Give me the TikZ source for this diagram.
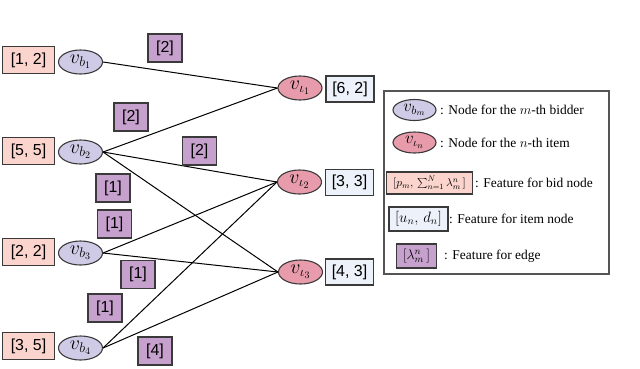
\RequirePackage{fix-cm}
\documentclass[tikz,border=0pt]{standalone}
\usepackage{fontspec}
\setmainfont{Liberation Serif}
\newfontfamily\arialf{Liberation Sans}
\usetikzlibrary{shapes.geometric}
\definecolor{bordercol}{HTML}{3A3A3A}
\definecolor{bidfill}{HTML}{FBD5CD}
\definecolor{bidell}{HTML}{CFCBE6}
\definecolor{itemell}{HTML}{E89CAB}
\definecolor{itemfill}{HTML}{EDF2FA}
\definecolor{edgefill}{HTML}{C7A1CD}
\definecolor{legcol}{HTML}{555555}
\tikzset{
  box/.style={rectangle, draw=bordercol, line width=1.1bp, inner sep=0pt, font=\arialf\fontsize{16}{18}\selectfont},
  bidfeat/.style={box, fill=bidfill, minimum width=52bp, minimum height=27bp},
  itemfeat/.style={box, fill=itemfill, minimum width=48bp, minimum height=26bp},
  edgefeat/.style={box, fill=edgefill, minimum width=34bp, minimum height=28bp},
  ell/.style={ellipse, draw=bordercol, line width=1.1bp, inner sep=0pt, minimum width=44bp, minimum height=24bp, font=\fontsize{20}{22}\selectfont},
  bidnode/.style={ell, fill=bidell},
  itemnode/.style={ell, fill=itemell},
  conn/.style={draw=black, line width=1bp},
  legtext/.style={anchor=west, inner sep=0pt, font=\fontsize{13.5}{15}\selectfont},
}
\begin{document}
\begin{tikzpicture}[x=1bp, y=-1bp]
\useasboundingbox (0,0) rectangle (640,368);
% bidder features
\node[bidfeat] (f1) at (28.5,60) {[1, 2]};
\node[bidfeat] (f2) at (28.5,151) {[5, 5]};
\node[bidfeat] (f3) at (28.5,252) {[2, 2]};
\node[bidfeat] (f4) at (28.5,346) {[3, 5]};
% bidder nodes
\node[bidnode] (b1) at (80.5,62) {$v_{b_1}$};
\node[bidnode] (b2) at (80.5,152) {$v_{b_2}$};
\node[bidnode] (b3) at (80.5,253) {$v_{b_3}$};
\node[bidnode] (b4) at (80.5,348) {$v_{b_4}$};
% item nodes
\node[itemnode] (i1) at (300,88) {$v_{\iota_1}$};
\node[itemnode] (i2) at (299.5,182) {$v_{\iota_2}$};
\node[itemnode] (i3) at (300.5,272) {$v_{\iota_3}$};
% item features
\node[itemfeat] (g1) at (350,89) {[6, 2]};
\node[itemfeat] (g2) at (349.5,182.5) {[3, 3]};
\node[itemfeat] (g3) at (349.5,272) {[4, 3]};
% connectors
\draw[conn] (b1.east) -- (i1.west);
\draw[conn] (b2.east) -- (i1.west);
\draw[conn] (b2.east) -- (i2.west);
\draw[conn] (b2.east) -- (i3.west);
\draw[conn] (b3.east) -- (i2.west);
\draw[conn] (b3.east) -- (i3.west);
\draw[conn] (b4.east) -- (i2.west);
\draw[conn] (b4.east) -- (i3.west);
% edge features
\node[edgefeat] (e1) at (165,48) {[2]};
\node[edgefeat] (e2) at (131,117) {[2]};
\node[edgefeat] (e3) at (199.5,151) {[2]};
\node[edgefeat] (e4) at (113,188) {[1]};
\node[edgefeat] (e5) at (114.5,224) {[1]};
\node[edgefeat] (e6) at (138,274.5) {[1]};
\node[edgefeat] (e7) at (105,308) {[1]};
\node[edgefeat] (e8) at (155,351) {[4]};
% legend
\node[draw=legcol, line width=1.1bp, rectangle, inner sep=0pt, minimum width=225bp, minimum height=183bp] (leg) at (496.5,182.5) {};
\node[bidnode, minimum width=43bp, minimum height=21bp, font=\fontsize{17}{19}\selectfont] (lb) at (414.5,110) {$v_{b_m}$};
\node[legtext] (lbt) at (440,110) {: Node for the $m$-th bidder};
\node[itemnode, minimum width=43bp, minimum height=21bp, font=\fontsize{17}{19}\selectfont] (li) at (414.5,142.5) {$v_{\iota_n}$};
\node[legtext] (lit) at (440,142.5) {: Node for the $n$-th item};
\node[bidfeat, minimum width=86bp, minimum height=22bp, font=\fontsize{11.5}{13}\selectfont] (lf) at (429.5,183) {$[p_m,\,\sum_{n=1}^{N}\lambda_m^n\,]$};
\node[legtext] (lft) at (475,183) {: Feature for bid node};
\node[itemfeat, minimum width=59bp, minimum height=24bp, font=\fontsize{15}{17}\selectfont] (lg) at (418.5,219) {$[u_n,\,d_n]$};
\node[legtext] (lgt) at (449,219) {: Feature for item node};
\node[edgefeat, minimum width=40bp, minimum height=24bp, font=\fontsize{14}{15}\selectfont] (le) at (416.5,256) {$[\lambda_m^n\,]$};
\node[legtext] (let) at (444,256) {: Feature for edge};
\end{tikzpicture}
\end{document}
